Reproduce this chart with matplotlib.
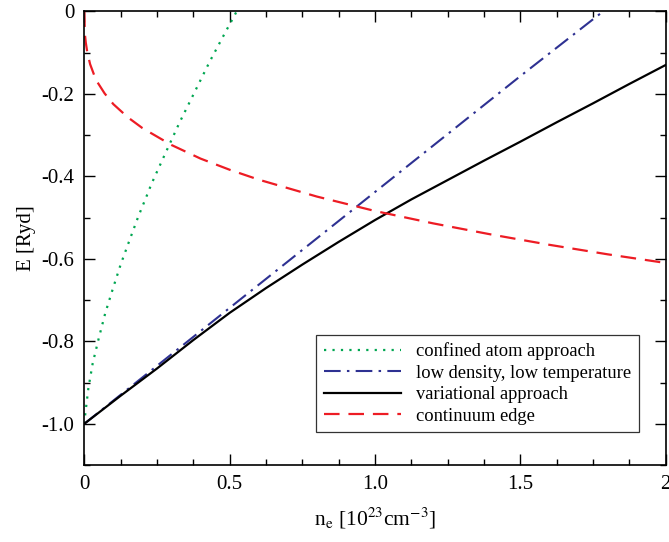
import numpy as np
import matplotlib
matplotlib.use("Agg")
import matplotlib.pyplot as plt
from matplotlib.ticker import MultipleLocator

plt.rcParams['font.family'] = ['Liberation Serif', 'DejaVu Serif']
plt.rcParams['mathtext.fontset'] = 'stix'

# values
n_confined = [0.0, 0.0034, 0.014, 0.029, 0.050, 0.072, 0.098, 0.125, 0.155, 0.186,
              0.219, 0.230, 0.279, 0.328, 0.380, 0.432, 0.488, 0.516, 0.524]
E_confined = [-1.0, -0.976, -0.914, -0.853, -0.792, -0.732, -0.673, -0.614, -0.556, -0.497,
              -0.440, -0.420, -0.344, -0.269, -0.195, -0.121, -0.047, -0.011, 0.0]

n_lowdens = [0.0, 0.5, 1.0, 1.5, 1.785]
E_lowdens = [-1.0, -0.719, -0.438, -0.157, 0.0]

n_var = [0.0, 0.125, 0.25, 0.375, 0.5, 0.625, 0.75, 0.875, 1.0, 1.125,
         1.25, 1.375, 1.5, 1.625, 1.75, 1.875, 2.0]
E_var = [-1.0, -0.932, -0.866, -0.797, -0.731, -0.671, -0.614, -0.559, -0.506, -0.456,
         -0.409, -0.362, -0.316, -0.269, -0.223, -0.176, -0.130]

n_edge = [0.0, 0.002, 0.005, 0.01, 0.02, 0.04, 0.07, 0.1, 0.15, 0.2, 0.3, 0.4, 0.5,
          0.6, 0.8, 1.0, 1.2, 1.4, 1.6, 1.8, 2.0]
E_edge = [0.0, -0.055, -0.075, -0.098, -0.128, -0.166, -0.199, -0.225, -0.257, -0.283,
          -0.324, -0.357, -0.384, -0.408, -0.449, -0.484, -0.514, -0.541, -0.566, -0.589, -0.610]

fig = plt.figure(figsize=(6.69, 5.42), dpi=100)
ax = fig.add_axes([0.126, 0.142, 0.869, 0.837])

ax.plot(n_confined, E_confined, color='#00a651', lw=1.6, linestyle=(0, (1, 2.8)),
        label='confined atom approach')
ax.plot(n_lowdens, E_lowdens, color='#2e3192', lw=1.5, linestyle=(0, (8, 3, 1.2, 3)),
        label='low density, low temperature')
ax.plot(n_var, E_var, color='black', lw=1.6, label='variational approach')
ax.plot(n_edge, E_edge, color='#ed1c24', lw=1.6, linestyle=(0, (7, 4)),
        label='continuum edge')

ax.set_xlim(0, 2)
ax.set_ylim(-1.1, 0)
ax.xaxis.set_minor_locator(MultipleLocator(0.125))
ax.yaxis.set_minor_locator(MultipleLocator(0.1))
ax.set_xticks([0, 0.5, 1.0, 1.5, 2.0])
ax.set_xticklabels(['0', '0.5', '1.0', '1.5', '2'])
ax.set_yticks([0, -0.2, -0.4, -0.6, -0.8, -1.0])
ax.set_yticklabels(['0', '-0.2', '-0.4', '-0.6', '-0.8', '-1.0'])
ax.tick_params(which='both', direction='in', top=True, right=True, labelsize=15, width=1)
ax.tick_params(which='major', length=8, pad=7)
ax.tick_params(which='minor', length=4)
for s in ax.spines.values():
    s.set_linewidth(1.2)

ax.set_xlabel(r'n$_\mathrm{e}$ [10$^{23}$cm$^{-3}$]', fontsize=15.5, labelpad=9)
ax.set_ylabel('E [Ryd]', fontsize=15, labelpad=4)

leg = ax.legend(loc='upper left', bbox_to_anchor=(0.399, 0.287), borderaxespad=0,
                fontsize=13.3, frameon=True, fancybox=False, handlelength=4.2,
                labelspacing=0.25, borderpad=0.4, handletextpad=0.8)
leg.get_frame().set_edgecolor('black')
leg.get_frame().set_linewidth(0.9)

fig.savefig('out.png', dpi=100)
